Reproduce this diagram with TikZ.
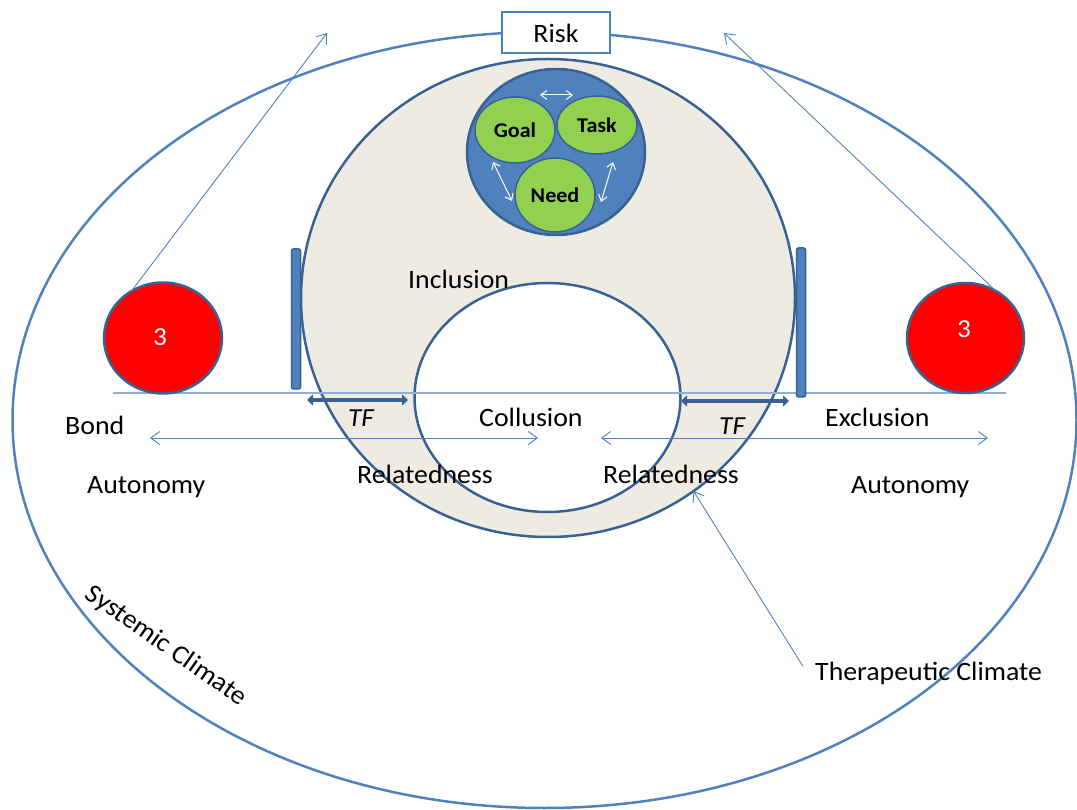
\documentclass[tikz,border=0pt]{standalone}
\usepackage{fontspec}
\setmainfont{Carlito}[FakeStretch=1.05]
\usetikzlibrary{shapes.geometric,arrows.meta}
\definecolor{accent}{HTML}{4F81BD}
\definecolor{edge}{HTML}{3A6193}
\definecolor{sand}{HTML}{EEECE2}
\definecolor{leaf}{HTML}{92D050}
\definecolor{pale}{HTML}{8DAEDB}
\begin{document}
\begin{tikzpicture}[x=1pt,y=-1pt,
  lbl/.style={font=\fontsize{26.5}{30}\selectfont, inner sep=0pt, anchor=base west},
  oval/.style={ellipse, inner sep=0pt, outer sep=0pt},
  thinarrow/.style={draw=accent, line width=0.9pt},
  barb/.style={-{Straight Barb[length=9pt,width=13pt]}},
  dbarb/.style={{Straight Barb[length=9pt,width=13pt]}-{Straight Barb[length=9pt,width=13pt]}},
  wbarb/.style={draw=white, line width=1pt,
    {Straight Barb[length=6pt,width=9pt]}-{Straight Barb[length=6pt,width=9pt]}},
  tfarrow/.style={draw=edge, line width=4.5pt,
    {Triangle[length=6pt,width=11pt]}-{Triangle[length=6pt,width=11pt]}},
  wall/.style={draw=edge, fill=accent, line width=1.5pt, rounded corners=2pt,
    minimum width=9pt, inner sep=0pt},
  ball/.style={oval, draw=edge, fill=red, line width=2.5pt},
  pod/.style={oval, draw=edge, fill=leaf, line width=1.5pt,
    font=\fontsize{21}{24}\selectfont\bfseries},
  digit/.style={font=\fontsize{26}{28}\selectfont, text=white, inner sep=0pt, anchor=base west}
]
\useasboundingbox (0,0) rectangle (1077,810);

% systemic climate
\node[oval, draw=accent, line width=2.5pt, minimum width=1064pt, minimum height=776pt] (sys) at (544.5,420) {};

% risk box on the rim
\node[draw=accent, line width=2pt, fill=white, minimum width=108pt, minimum height=41pt,
  inner sep=0pt, font=\fontsize{26.5}{30}\selectfont] (risk) at (556,33) {Risk};

% therapeutic climate ring
\node[oval, draw=edge, fill=sand, line width=2.5pt, minimum width=494pt, minimum height=478pt] (ther) at (548,298) {};
\node[oval, draw=edge, fill=white, line width=2.5pt, minimum width=266pt, minimum height=229pt] (core) at (547.5,397.5) {};

% alliance circle
\node[oval, draw=edge, fill=accent, line width=2.5pt, minimum width=178pt, minimum height=166pt] (alliance) at (556,152) {};
\node[pod, minimum width=80pt, minimum height=66pt] (goal) at (515,130) {Goal};
\node[pod, minimum width=80pt, minimum height=58pt] (task) at (597,125) {Task};
\node[pod, minimum width=80pt, minimum height=74pt] (need) at (555,195) {Need};
\coordinate (w1) at (540,95);  \coordinate (w2) at (573,95);
\coordinate (w3) at (493,162); \coordinate (w4) at (512,201);
\coordinate (w5) at (613,162); \coordinate (w6) at (601,202);
\draw[wbarb] (w1) -- (w2);
\draw[wbarb] (w3) -- (w4);
\draw[wbarb] (w5) -- (w6);

% ground line
\coordinate (gL) at (113,393); \coordinate (gR) at (1006,393);
\draw[draw=pale, line width=1.3pt] (gL) -- (gR);

% walls
\node[wall, minimum height=140pt] (wallL) at (296,319) {};
\node[wall, minimum height=149pt] (wallR) at (801,322.5) {};

% therapeutic frame arrows
\coordinate (tf1) at (307,400); \coordinate (tf2) at (408,400);
\coordinate (tf3) at (681,401); \coordinate (tf4) at (789,401);
\draw[tfarrow] (tf1) -- (tf2);
\draw[tfarrow] (tf3) -- (tf4);

% spans
\coordinate (s1) at (150,438); \coordinate (s2) at (538,438);
\coordinate (s3) at (601,438); \coordinate (s4) at (988,438);
\draw[thinarrow, dbarb] (s1) -- (s2);
\draw[thinarrow, dbarb] (s3) -- (s4);

% red balls
\node[ball, minimum width=118pt, minimum height=111pt] (redL) at (163,338) {};
\node[ball, minimum width=117pt, minimum height=110pt] (redR) at (965.5,338) {};
\node[digit] (nL) at (153,346) {3};
\node[digit] (nR) at (957,338) {3};
\coordinate (tipL) at (327,33);
\coordinate (tipR) at (724,33);
\draw[thinarrow, barb] (redL.124) -- (tipL);
\draw[thinarrow, barb] (redR.57) -- (tipR);

% labels
\node[lbl] (inclusion) at (408,289) {Inclusion};
\node[lbl] (bond) at (65,435) {Bond};
\node[lbl] (autL) at (87,493) {Autonomy};
\node[lbl] (relL) at (357,483) {Relatedness};
\node[lbl, font=\fontsize{26}{30}\selectfont\itshape] (tfL) at (348,427) {TF};
\node[lbl] (collusion) at (479,427) {Collusion};
\node[lbl, font=\fontsize{26}{30}\selectfont\itshape] (tfR) at (719,435) {TF};
\node[lbl] (exclusion) at (825,427) {Exclusion};
\node[lbl] (relR) at (603,483) {Relatedness};
\node[lbl] (autR) at (851,493) {Autonomy};
\node[lbl] (tc) at (815,680) {Therapeutic Climate};
\node[font=\fontsize{26.5}{30}\selectfont, inner sep=0pt, rotate=-35] (sc) at (166,646) {Systemic Climate};

\draw[thinarrow, barb] ([shift={(-12,5)}]tc.north west) -- (ther.-53);
\end{tikzpicture}
\end{document}
